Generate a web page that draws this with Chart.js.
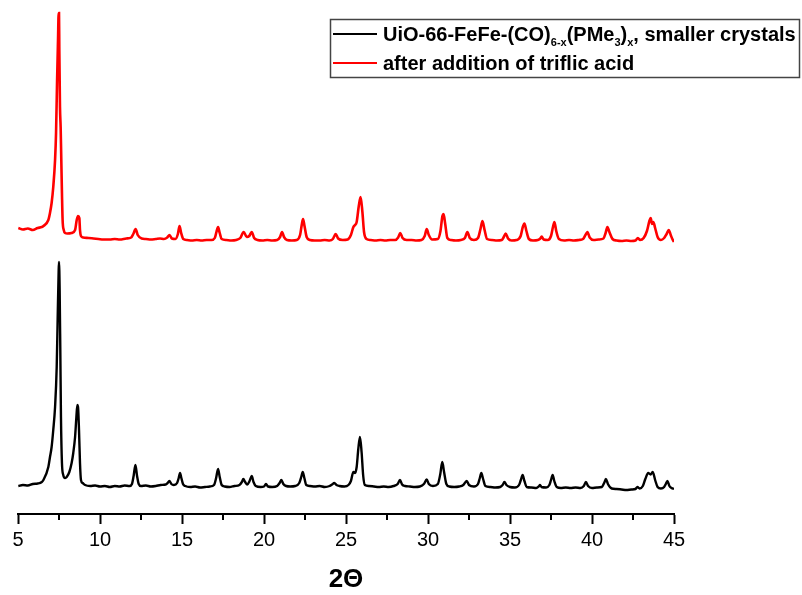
<!DOCTYPE html>
<html>
<head>
<meta charset="utf-8">
<script src="https://cdn.jsdelivr.net/npm/chart.js@4.4.1/dist/chart.umd.min.js"></script>
<style>
  html, body { margin: 0; padding: 0; background: #ffffff; }
  #wrap { width: 802px; height: 595px; }
</style>
</head>
<body>
<div id="wrap"><canvas id="c" width="802" height="595"></canvas></div>
<script>
// ---- data (2Θ in degrees, intensity in arbitrary units incl. vertical offset) ----
const xLabelText = "2\u0398";
const seriesNames = ["UiO-66-FeFe-(CO)6-x(PMe3)x, smaller crystals", "after addition of triflic acid"];
const xTicksMajor = [5, 10, 15, 20, 25, 30, 35, 40, 45];
const xTicksMinor = [7.5, 12.5, 17.5, 22.5, 27.5, 32.5, 37.5, 42.5];

const blackX = [5.02,5.3,5.6,5.9,6.2,6.45,6.55,6.85,6.95,7.05,7.15,7.26,7.36,7.42,7.48,7.50,7.54,7.58,7.62,7.68,7.76,7.87,7.97,8.13,8.27,8.37,8.48,8.56,8.62,8.66,8.72,8.78,8.84,8.94,9.09,9.4,9.7,10.0,10.3,10.6,10.9,11.2,11.5,11.8,11.95,12.05,12.16,12.26,12.36,12.5,12.8,13.1,13.4,13.7,14.0,14.12,14.23,14.35,14.5,14.7,14.8,14.88,14.96,15.06,15.2,15.5,15.8,16.1,16.4,16.7,16.95,17.08,17.2,17.3,17.42,17.6,17.9,18.2,18.5,18.65,18.74,18.85,18.98,19.12,19.25,19.36,19.5,19.8,20.0,20.12,20.25,20.5,20.8,20.95,21.06,21.18,21.35,21.6,21.9,22.15,22.27,22.36,22.46,22.58,22.8,23.1,23.4,23.7,24.0,24.15,24.29,24.42,24.6,24.9,25.15,25.3,25.45,25.55,25.65,25.75,25.85,25.95,26.05,26.15,26.4,26.7,27.0,27.3,27.6,27.9,28.15,28.29,28.42,28.6,28.9,29.2,29.5,29.75,29.92,30.05,30.3,30.6,30.75,30.87,30.98,31.12,31.3,31.6,31.9,32.15,32.36,32.5,32.8,33.05,33.16,33.25,33.36,33.5,33.8,34.1,34.4,34.55,34.66,34.78,35.0,35.3,35.55,35.66,35.77,35.88,36.02,36.3,36.6,36.75,36.83,36.92,37.2,37.4,37.5,37.6,37.7,37.85,38.1,38.4,38.7,39.0,39.3,39.5,39.63,39.76,40.0,40.3,40.6,40.74,40.85,40.97,41.2,41.5,41.8,42.1,42.4,42.65,42.77,42.9,43.1,43.25,43.43,43.57,43.70,43.85,44.0,44.2,44.4,44.5,44.6,44.72,44.85,45.0];
const blackY = [28,29,28.5,30,30.5,32,34,47,57,67,84,107,147,197,244,252,224,164,97,51,39,36,37,42,51,61,77,97,109,107,84,51,34,31,29,28,28.5,27.5,28,27,28,27.5,28.5,28,30,38,49,38,30,28,28.5,27.5,28,29,29.5,31,33,30,29,31,36,41,36,30,28,27,27.5,26.5,27,27.5,29,36,45,37,29,27.5,27,28,29,32,35,32,29.5,33,38,32,28,27,27.5,30,27.5,27,28,31,34,30,28,27.5,28,31,37,42,36,29,28,27.5,28,27,28,29.5,31,29,28,27.5,29,33,42,41,47,65,77,62,38,29,28,27.5,27,27.5,27,28,30,34,29.5,28,27.5,27,27.5,30,34.5,30,28,30,40,52,42,30,27.5,27,27.5,29,33,29,27.5,30,36,41,35,28,27,26.5,27,29,32,29,27,26.5,29,34,39,33,27,26.5,26,27.5,29,27,26.5,29,34,39,33,27,26,26.5,26,26.5,26,28,32,28,26,26.5,27,31,35,30,25.5,25,24.5,24,24.5,25,27,25.5,28,35,41,39.5,42,34,27,25.5,27,30,33,28,26,25];

const redX = [5.02,5.3,5.6,5.9,6.2,6.45,6.55,6.85,6.95,7.05,7.15,7.26,7.32,7.38,7.44,7.48,7.50,7.52,7.56,7.60,7.64,7.68,7.72,7.79,7.87,8.01,8.27,8.48,8.58,8.66,8.74,8.78,8.84,8.98,9.3,9.6,9.9,10.2,10.6,10.9,11.2,11.6,11.9,12.03,12.17,12.3,12.54,12.8,13.1,13.4,13.66,13.9,14.1,14.24,14.38,14.6,14.75,14.85,14.95,15.08,15.3,15.6,15.9,16.2,16.5,16.8,17.0,17.1,17.2,17.3,17.42,17.7,18.0,18.3,18.55,18.76,18.95,19.1,19.25,19.4,19.6,19.9,20.2,20.5,20.8,20.98,21.1,21.22,21.4,21.7,22.0,22.2,22.3,22.38,22.47,22.6,22.8,23.1,23.4,23.7,24.0,24.2,24.37,24.52,24.8,25.1,25.3,25.45,25.55,25.65,25.78,25.89,26.0,26.1,26.25,26.5,26.8,27.1,27.4,27.7,28.0,28.18,28.31,28.45,28.7,29.0,29.3,29.6,29.8,29.92,30.05,30.25,30.6,30.76,30.88,30.95,31.05,31.18,31.4,31.7,32.0,32.25,32.4,32.55,32.8,33.05,33.2,33.32,33.45,33.6,33.9,34.2,34.5,34.62,34.74,34.88,35.1,35.4,35.65,35.78,35.88,36.0,36.15,36.4,36.7,36.85,36.93,37.05,37.3,37.5,37.62,37.71,37.82,37.98,38.3,38.6,38.9,39.2,39.45,39.6,39.72,39.86,40.1,40.4,40.7,40.83,40.94,41.06,41.25,41.5,41.8,42.1,42.4,42.65,42.8,42.93,43.15,43.35,43.5,43.58,43.66,43.74,43.85,44.0,44.2,44.4,44.55,44.68,44.8,44.9,45.0];
const redY = [286,284.5,285.5,284,286,287,288,294,301,311,327,354,381,431,474,501,501,464,407,387,354,321,294,284,281,280.5,281,284,294,298,296,284,278,276.5,276,275.5,275,274.5,274.5,275,274.5,275.5,276.5,280,285,279,275.5,275,274.5,275,275.5,275,276.5,279,275.5,275,280,288,281,275,274,273.5,274,273.5,274,274,276,282,287,281,275,274,273.5,274,276,282,277,278,282,276,274,273.5,274,273.5,274,277,282,277,274,273.5,274,279,289,295,288,277,274,273.5,273.5,274,273.5,275,280,275.5,274,274.5,279,287,289,292,308,317,302,282,275,274,273.5,274,273.5,274,274,276.5,281,276,274,274,273.5,274,278,285,279,274.5,275,283,298,300,290,276,274,273.5,274,276,282,276,274,276,285,293,284,275,274,273.5,274,277,280.5,275.5,273.5,274,278,287,290.5,283,275,273.5,274,275.5,277.5,274.5,274,278,287,292,283,275,273.5,274,273.5,274,275,279,282,276.5,274,274.5,275.5,281,287,282,275,273.5,273,273.5,273,273.5,276,274,276,283,293,296,290,292,286,277,274,276,280,284,279,275,272];

const toPoints = (xs, ys) => xs.map((x, i) => ({ x: x, y: ys[i] }));

// ---- plugins ----
const minorTicks = {
  id: 'minorTicks',
  afterDraw(chart) {
    const s = chart.scales.x, ctx = chart.ctx, y0 = chart.chartArea.bottom;
    ctx.save();
    ctx.strokeStyle = '#000';
    ctx.lineWidth = 2;
    xTicksMinor.forEach(v => {
      const px = Math.round(s.getPixelForValue(v));
      ctx.beginPath(); ctx.moveTo(px, y0); ctx.lineTo(px, y0 + 6); ctx.stroke();
    });
    ctx.restore();
  }
};

const customLegend = {
  id: 'customLegend',
  afterDraw(chart) {
    const ctx = chart.ctx;
    ctx.save();
    ctx.strokeStyle = '#444';
    ctx.lineWidth = 1.5;
    ctx.strokeRect(330.5, 19.5, 469, 58);
    const main = 'bold 20px "Liberation Sans", Arial, sans-serif';
    const sub = 'bold 11px "Liberation Sans", Arial, sans-serif';
    ctx.lineWidth = 2;
    ctx.strokeStyle = '#000';
    ctx.beginPath(); ctx.moveTo(333, 34); ctx.lineTo(377, 34); ctx.stroke();
    ctx.strokeStyle = '#ff0000';
    ctx.beginPath(); ctx.moveTo(333, 63); ctx.lineTo(377, 63); ctx.stroke();
    ctx.fillStyle = '#000';
    ctx.textBaseline = 'alphabetic';
    const parts = [
      ['UiO-66-FeFe-(CO)', main, 0],
      ['6-x', sub, 5],
      ['(PMe', main, 0],
      ['3', sub, 5],
      [')', main, 0],
      ['x', sub, 5],
      [', smaller crystals', main, 0]
    ];
    let x = 383;
    const base1 = 41;
    parts.forEach(p => {
      ctx.font = p[1];
      ctx.fillText(p[0], x, base1 + p[2]);
      x += ctx.measureText(p[0]).width;
    });
    ctx.font = main;
    ctx.fillText(seriesNames[1], 383, 70);
    ctx.restore();
  }
};

new Chart(document.getElementById('c'), {
  type: 'line',
  data: {
    datasets: [
      {
        label: seriesNames[0],
        data: toPoints(blackX, blackY),
        borderColor: '#000000',
        borderWidth: 2.4,
        pointRadius: 0,
        fill: false,
        cubicInterpolationMode: 'monotone'
      },
      {
        label: seriesNames[1],
        data: toPoints(redX, redY),
        borderColor: '#ff0000',
        borderWidth: 2.6,
        pointRadius: 0,
        fill: false,
        cubicInterpolationMode: 'monotone'
      }
    ]
  },
  options: {
    responsive: false,
    animation: false,
    devicePixelRatio: 1,
    layout: { padding: { left: 18, right: 128, top: 10, bottom: 0 } },
    plugins: { legend: { display: false }, tooltip: { enabled: false } },
    scales: {
      x: {
        type: 'linear',
        min: 5,
        max: 45,
        afterBuildTicks: (s) => { s.ticks = xTicksMajor.map(v => ({ value: v })); },
        afterFit: (s) => { s.height = 81; },
        ticks: {
          color: '#000',
          font: { family: '"Liberation Sans", Arial, sans-serif', size: 20 },
          padding: 4,
          maxRotation: 0,
          autoSkip: false
        },
        grid: { drawOnChartArea: false, drawTicks: true, tickLength: 10, tickColor: '#000', tickWidth: 2 },
        border: { display: true, color: '#000', width: 2 },
        title: {
          display: true,
          text: xLabelText,
          color: '#000',
          font: { family: '"Liberation Sans", Arial, sans-serif', size: 26, weight: 'bold' },
          padding: { top: 0, bottom: 0 }
        }
      },
      y: {
        display: false,
        min: 0,
        max: 504
      }
    }
  },
  plugins: [minorTicks, customLegend]
});
</script>
</body>
</html>
